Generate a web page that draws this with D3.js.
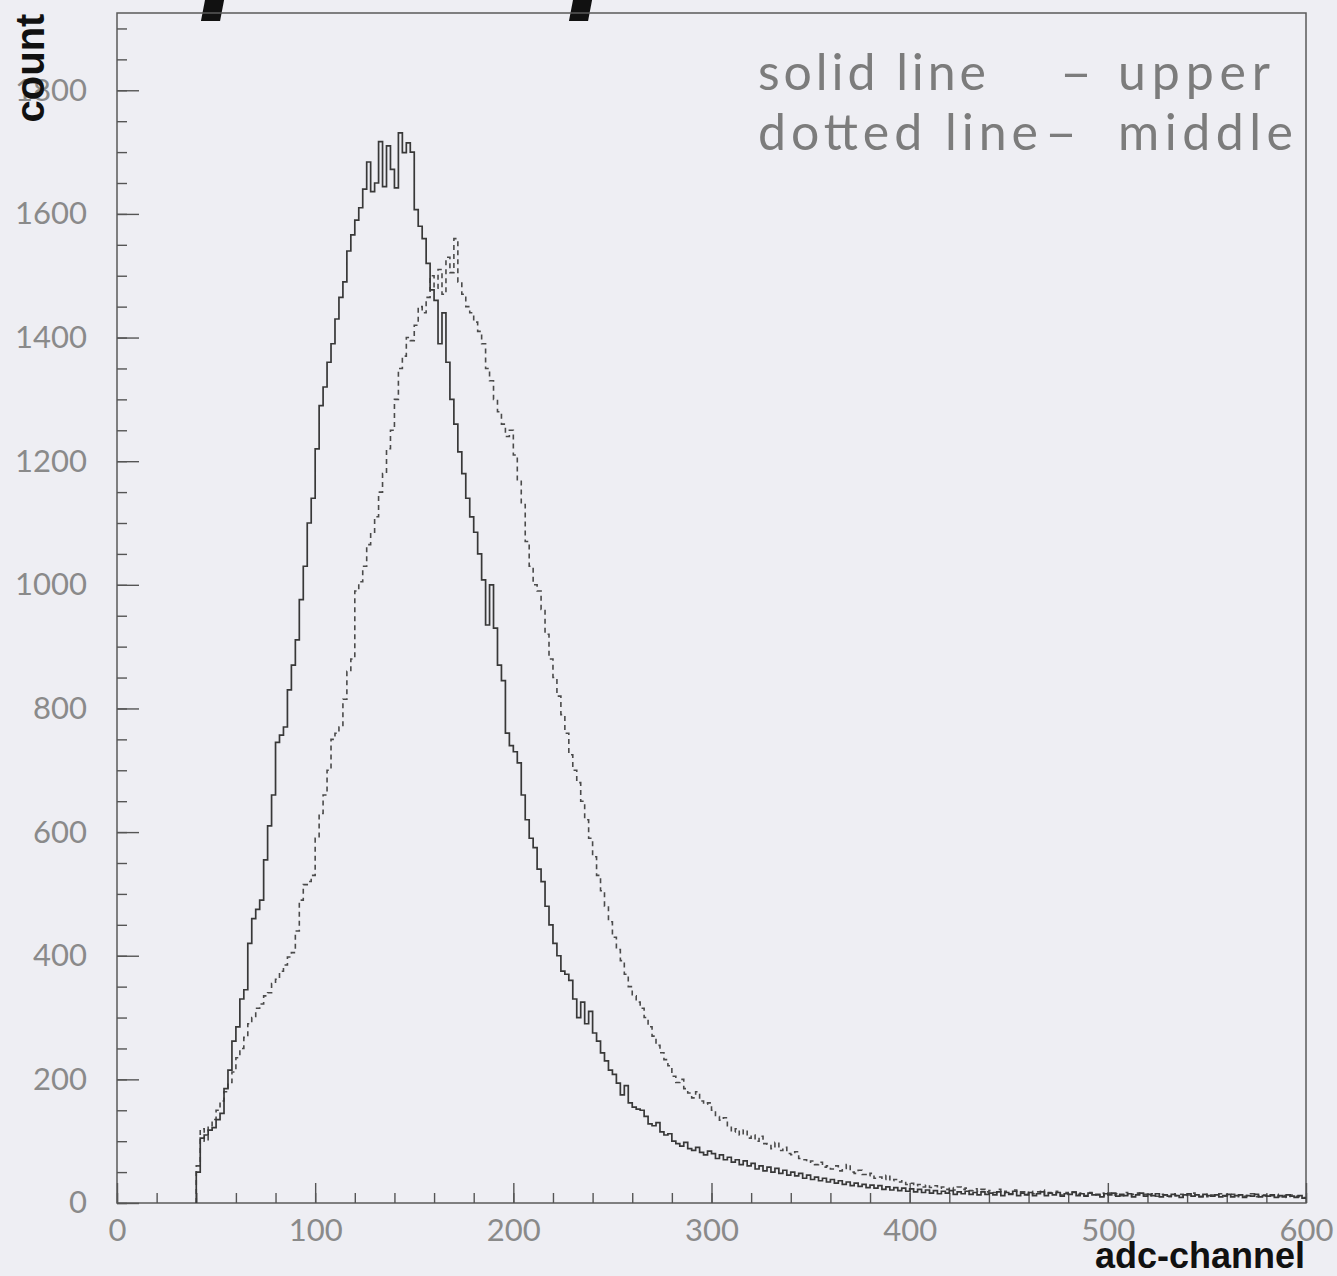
<!DOCTYPE html>
<html>
<head>
<meta charset="utf-8">
<script src="https://cdn.jsdelivr.net/npm/d3@7"></script>
<style>
  html, body { margin: 0; padding: 0; background: #eeeef3; overflow: hidden; }
</style>
</head>
<body>
<div id="chart"></div>
<script>
// histogram bins: 2 adc-channels wide, starting at channel 40
var binStart = 40, binWidth = 2;

// solid line - upper
var upperCounts = [
  50,105,110,118,122,135,145,185,215,262,
  285,330,345,420,460,475,490,555,610,660,
  745,757,770,830,870,911,976,1030,1100,1140,
  1220,1290,1320,1360,1390,1430,1465,1490,1540,1566,
  1590,1610,1640,1684,1636,1650,1717,1644,1710,1672,
  1642,1731,1699,1715,1700,1607,1580,1560,1520,1477,
  1460,1390,1440,1360,1300,1260,1215,1180,1140,1110,
  1085,1050,1008,935,1000,930,870,845,760,740,
  730,712,660,620,590,575,540,520,480,450,
  420,400,375,370,360,330,300,325,290,310,
  275,262,243,230,215,208,194,175,190,162,
  155,152,150,140,128,125,130,115,110,112,
  100,96,92,98,88,85,90,82,78,84,
  80,72,78,70,74,66,70,62,68,60,
  64,55,60,52,58,50,56,48,53,45,
  50,44,48,40,45,38,42,36,40,34,
  38,32,36,30,34,28,32,27,30,25,
  29,24,28,22,26,21,25,20,24,19,
  23,18,22,17,21,16,20,15,19,16,
  20,14,18,15,19,14,17,13,18,14,
  16,13,18,12,17,14,19,12,16,13,
  17,12,15,18,12,16,13,17,11,15,
  14,17,12,15,11,16,13,14,10,15,
  13,16,11,14,12,15,10,13,16,11,
  14,12,15,10,13,11,14,12,9,13,
  15,11,13,10,14,12,11,13,10,12,
  14,10,12,13,9,12,11,14,10,12,
  11,13,9,12,10,13,11,9,12,8
];

// dotted line - middle
var middleCounts = [
  60,120,100,125,135,150,165,180,195,212,
  235,250,268,290,300,315,322,335,340,355,
  362,375,385,398,405,440,490,515,520,530,
  590,630,660,700,750,760,770,815,860,880,
  990,1005,1030,1065,1085,1110,1150,1180,1220,1250,
  1300,1350,1370,1400,1395,1420,1450,1440,1465,1500,
  1480,1510,1470,1530,1505,1560,1490,1470,1450,1440,
  1425,1410,1390,1350,1330,1300,1280,1260,1240,1250,
  1210,1170,1130,1070,1030,1000,990,960,920,880,
  850,820,790,760,725,700,680,650,620,590,
  560,530,505,480,455,430,410,392,370,350,
  335,325,315,300,285,270,255,243,232,222,
  205,195,200,185,178,170,180,165,160,162,
  150,140,134,138,125,115,120,110,118,105,
  110,100,108,96,95,88,98,85,90,80,
  78,83,72,70,66,68,62,66,58,60,
  55,60,52,56,62,50,48,53,46,44,
  48,40,42,38,45,36,38,34,36,30,
  32,28,30,26,29,25,28,24,26,22,
  25,21,26,22,24,20,23,19,22,18,
  20,17,22,16,19,15,21,17,18,14,
  19,15,18,21,14,17,16,19,13,17,
  15,18,14,16,12,17,15,13,16,12,
  16,13,15,12,17,11,14,16,12,14,
  12,15,11,14,13,10,15,12,14,11,
  13,16,12,11,14,10,13,12,15,11,
  12,14,10,13,11,12,15,10,12,13,
  11,12,14,10,12,9,13,11,10,9
];

var xMajorTicks = [0, 100, 200, 300, 400, 500, 600];
var yMajorTicks = [0, 200, 400, 600, 800, 1000, 1200, 1400, 1600, 1800];
var legendLines = [
  { name: 'solid line', sep: '\u2013', part: 'upper' },
  { name: 'dotted line', sep: '\u2013', part: 'middle' }
];

(function() {
  var width = 1337, height = 1276;
  var plotLeft = 117, plotRight = 1306, plotTop = 13, plotBottom = 1203;

  var svg = d3.select('#chart').append('svg')
    .attr('width', width)
    .attr('height', height)
    .style('font-family', 'Lato, "DejaVu Sans", sans-serif');

  svg.append('rect').attr('width', width).attr('height', height).attr('fill', '#eeeef3');

  var x = d3.scaleLinear().domain([0, 600]).range([plotLeft, plotRight]);
  var y = d3.scaleLinear().domain([0, 1925]).range([plotBottom, plotTop]);

  // cut-off title remnants at the very top
  svg.append('g')
    .attr('fill', '#111')
    .attr('font-family', '"Liberation Sans", Arial, sans-serif')
    .attr('font-weight', 'bold')
    .attr('font-style', 'italic')
    .attr('font-size', 140)
    .selectAll('text')
    .data([204, 572])
    .enter().append('text')
      .attr('x', function(d) { return d; })
      .attr('y', -8)
      .text('p');

  // frame
  svg.append('rect')
    .attr('x', plotLeft).attr('y', plotTop)
    .attr('width', plotRight - plotLeft).attr('height', plotBottom - plotTop)
    .attr('fill', 'none')
    .attr('stroke', '#5a5a5a')
    .attr('stroke-width', 1.5);

  // y axis: minor + major ticks pointing inward
  svg.append('g')
    .attr('transform', 'translate(' + plotLeft + ',0)')
    .call(d3.axisLeft(y).tickValues(d3.range(0, 1901, 50)).tickSize(-10).tickFormat(''))
    .call(function(g) { g.select('.domain').remove(); })
    .selectAll('line').attr('stroke', '#555').attr('stroke-width', 1.4);

  var yAxis = svg.append('g')
    .attr('transform', 'translate(' + plotLeft + ',0)')
    .call(d3.axisLeft(y).tickValues(yMajorTicks).tickFormat(d3.format('d'))
      .tickSize(-22).tickPadding(30));
  yAxis.select('.domain').remove();
  yAxis.selectAll('line').attr('stroke', '#555').attr('stroke-width', 1.4);
  yAxis.selectAll('text').attr('font-size', 31).attr('fill', '#8a8a8a')
    .attr('font-family', 'Lato, sans-serif');

  // x axis
  svg.append('g')
    .attr('transform', 'translate(0,' + plotBottom + ')')
    .call(d3.axisBottom(x).tickValues(d3.range(0, 601, 20)).tickSize(-10).tickFormat(''))
    .call(function(g) { g.select('.domain').remove(); })
    .selectAll('line').attr('stroke', '#555').attr('stroke-width', 1.4);

  var xAxis = svg.append('g')
    .attr('transform', 'translate(0,' + plotBottom + ')')
    .call(d3.axisBottom(x).tickValues(xMajorTicks).tickFormat(d3.format('d'))
      .tickSize(-20).tickPadding(16));
  xAxis.select('.domain').remove();
  xAxis.selectAll('line').attr('stroke', '#555').attr('stroke-width', 1.4);
  xAxis.selectAll('text').attr('font-size', 31).attr('fill', '#8a8a8a')
    .attr('font-family', 'Lato, sans-serif');

  // histogram outlines
  function histPoints(counts) {
    var pts = [[binStart, 0]];
    counts.forEach(function(c, i) { pts.push([binStart + i * binWidth, c]); });
    pts.push([binStart + counts.length * binWidth, counts[counts.length - 1]]);
    return pts;
  }

  var step = d3.line()
    .x(function(d) { return x(d[0]); })
    .y(function(d) { return y(d[1]); })
    .curve(d3.curveStepAfter);

  svg.append('path')
    .attr('d', step(histPoints(middleCounts)))
    .attr('fill', 'none')
    .attr('stroke', '#4a4a4a')
    .attr('stroke-width', 1.6)
    .attr('stroke-dasharray', '5,4');

  svg.append('path')
    .attr('d', step(histPoints(upperCounts)))
    .attr('fill', 'none')
    .attr('stroke', '#383838')
    .attr('stroke-width', 1.7);

  // legend
  var legend = svg.append('g')
    .attr('font-size', 50)
    .attr('fill', '#7c7c7c')
    .attr('font-family', 'Lato, sans-serif');

  var lg = legend.selectAll('g').data(legendLines).enter().append('g')
    .attr('transform', function(d, i) { return 'translate(0,' + (90 + i * 60) + ')'; });
  lg.append('text').attr('x', 758)
    .attr('textLength', function(d, i) { return i ? 280 : 228; })
    .attr('lengthAdjust', 'spacing')
    .text(function(d) { return d.name; });
  lg.append('text').attr('x', function(d, i) { return i ? 1045 : 1060; })
    .attr('textLength', 32).attr('lengthAdjust', 'spacingAndGlyphs')
    .text(function(d) { return d.sep; });
  lg.append('text').attr('x', 1118)
    .attr('textLength', function(d, i) { return i ? 175 : 152; })
    .attr('lengthAdjust', 'spacing')
    .text(function(d) { return d.part; });

  // axis titles
  svg.append('text')
    .attr('transform', 'translate(44,68) rotate(-90)')
    .attr('text-anchor', 'middle')
    .attr('font-family', '"Liberation Sans", Arial, sans-serif')
    .attr('font-weight', 'bold')
    .attr('font-size', 40)
    .attr('fill', '#111')
    .text('count');

  svg.append('text')
    .attr('x', 1305).attr('y', 1268)
    .attr('text-anchor', 'end')
    .attr('font-family', '"Liberation Sans", Arial, sans-serif')
    .attr('font-weight', 'bold')
    .attr('font-size', 36)
    .attr('fill', '#111')
    .text('adc-channel');
})();
</script>
</body>
</html>
